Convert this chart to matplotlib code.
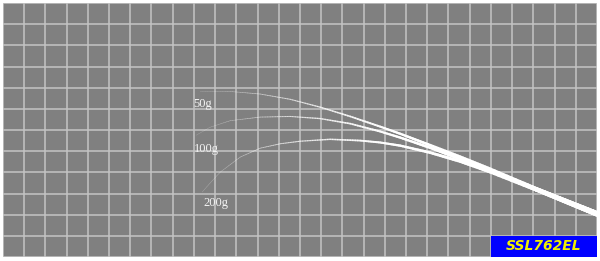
import numpy as np
import matplotlib
matplotlib.use("Agg")
import matplotlib.pyplot as plt
from matplotlib.collections import LineCollection
from matplotlib.patches import Rectangle

# Curve data in grid units (x: 0-28, y: 0-12)
x_50 = [9.29, 10.71, 12.12, 13.54, 14.95, 16.37, 17.78, 18.73, 20.14, 21.56, 22.97, 25.33, 28.02]
y_50 = [7.83, 7.82, 7.70, 7.45, 7.08, 6.64, 6.16, 5.82, 5.28, 4.72, 4.14, 3.12, 2.03]

x_100 = [9.10, 9.76, 10.71, 12.12, 13.54, 14.95, 16.37, 17.78, 18.73, 20.14, 21.56, 22.97, 25.33, 28.02]
y_100 = [5.75, 6.13, 6.44, 6.61, 6.64, 6.54, 6.30, 5.93, 5.64, 5.16, 4.63, 4.08, 3.12, 2.03]

x_200 = [9.39, 9.76, 10.24, 11.18, 12.12, 13.07, 14.01, 15.42, 16.84, 17.78, 18.73, 20.14, 21.56, 22.97, 25.33, 28.02]
y_200 = [3.07, 3.49, 4.01, 4.72, 5.14, 5.35, 5.47, 5.56, 5.50, 5.41, 5.26, 4.93, 4.52, 4.03, 3.12, 2.03]

labels = ["50g", "100g", "200g"]
label_pos = [(9.39, 7.22), (9.58, 5.10), (10.02, 2.57)]
title = "SSL762EL"

fig = plt.figure(figsize=(6.0, 2.61), dpi=100)
fig.patch.set_facecolor("white")
ax = fig.add_axes([3/600, 4/261, 594/600, 254/261])
ax.set_facecolor("#808080")
ax.set_xlim(0, 28)
ax.set_ylim(0, 12)
ax.set_xticks(np.arange(0, 29, 1))
ax.set_yticks(np.arange(0, 13, 1))
ax.grid(True, color="#c4c4c4", lw=1.1)
ax.tick_params(length=0, labelbottom=False, labelleft=False)
for s in ax.spines.values():
    s.set_visible(False)
ax.set_axisbelow(True)

def draw_curve(xs, ys):
    xs = np.asarray(xs); ys = np.asarray(ys)
    px, py = [], []
    for i in range(len(xs) - 1):
        t = np.linspace(0, 1, 12, endpoint=False)
        px.extend(xs[i] + (xs[i+1] - xs[i]) * t)
        py.extend(ys[i] + (ys[i+1] - ys[i]) * t)
    px.append(xs[-1]); py.append(ys[-1])
    px = np.array(px); py = np.array(py)
    pts = np.column_stack([px, py]).reshape(-1, 1, 2)
    segs = np.concatenate([pts[:-1], pts[1:]], axis=1)
    xm = (px[:-1] + px[1:]) / 2
    f = np.clip((xm - 9.0) / (28.0 - 9.0), 0, 1)
    lw = 0.35 + 3.6 * f ** 1.5
    alpha = np.clip(0.2 + 1.6 * f, 0, 1)
    colors = [(1, 1, 1, a) for a in alpha]
    lc = LineCollection(segs, linewidths=lw, colors=colors, capstyle="round",
                        joinstyle="round", zorder=3)
    ax.add_collection(lc)

draw_curve(x_200, y_200)
draw_curve(x_100, y_100)
draw_curve(x_50, y_50)

for lab, (lx, ly) in zip(labels, label_pos):
    ax.text(lx, ly, lab, color="#f4f4f4", fontsize=9, family="Liberation Serif",
            ha="center", va="center", zorder=4)

ax.add_patch(Rectangle((23.0, 0), 5.0, 1.0, facecolor="#0000ff", edgecolor="none", zorder=5))
ax.text(25.5, 0.5, title, color="#f0f000", fontsize=10, fontweight="bold",
        fontstyle="italic", ha="center", va="center", zorder=6)

fig.savefig("out.png", dpi=100)
